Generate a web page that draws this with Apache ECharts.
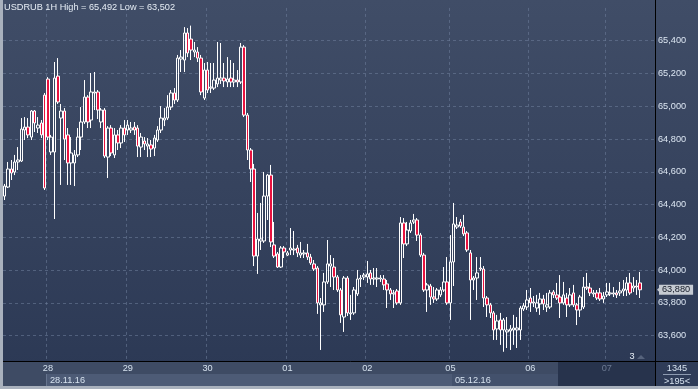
<!DOCTYPE html>
<html><head><meta charset="utf-8">
<script src="https://cdn.jsdelivr.net/npm/echarts@6/dist/echarts.min.js"></script>
<style>html,body{margin:0;padding:0;background:#2c3955;}#c{width:698px;height:389px;}</style>
</head><body><div id="c"></div>
<script>
// ---- data ----
const titleText = 'USDRUB 1H High = 65,492 Low = 63,502';
const dayLabels = ['27', '28', '29', '30', '01', '02', '05', '06', '07'];
const dayHourCounts = [13, 24, 24, 24, 24, 25, 24, 23, 15];
const futureDay = '07';
const weekLabels = ['28.11.16', '05.12.16'];
const lastPrice = 63880;
const barsTotal = '1345';
const barsVisible = '>195<';
const shiftMark = '3';
const yMin = 63400, yMax = 65600, yStep = 200;

const opens = [64452,64507,64617,64599,64660,64666,64855,64873,64812,64971,
64867,64898,65068,65166,64721,64721,65184,64928,64971,64825,
64654,64654,64703,64812,64904,65056,64916,65081,65087,64904,
64977,64690,64867,64703,64825,64776,64867,64855,64855,64873,
64867,64751,64788,64757,64764,64745,64794,64855,64916,64928,
64995,65081,65038,65288,65282,65447,65410,65331,65331,65294,
65050,65221,65111,65111,65136,65160,65172,65148,65172,65148,
65160,65148,65361,64946,64733,64617,64086,64178,64178,64452,
64580,64154,64099,64019,64135,64092,64123,64123,64135,64092,
64099,64105,64080,64038,64013,63788,63788,63928,64025,64019,
63958,63879,63714,63952,63733,63739,63855,63946,63958,63958,
63983,63946,63946,63946,63946,63916,63879,63855,63873,63800,
64288,64160,64239,64294,64306,64214,64092,63879,63903,63836,
63824,63849,63879,63928,63800,64050,64263,64294,64263,64227,
64105,63940,63952,64013,64007,63830,63788,63739,63641,63696,
63635,63623,63629,63635,63635,63635,63763,63775,63830,63800,
63769,63794,63824,63775,63775,63867,63849,63836,63800,63830,
63788,63861,63788,63757,63775,63897,63891,63855,63861,63861,
63824,63849,63855,63855,63861,63861,63873,63879,63922,63891,
63903,63922];
const closes = [64513,64617,64593,64660,64672,64861,64873,64825,64971,64898,
64885,64825,64501,64812,64812,65172,65026,64971,64800,64654,
64715,64703,64812,64904,65056,64904,65087,65087,64977,64977,
64696,64867,64715,64825,64776,64867,64825,64885,64867,64855,
64757,64812,64770,64770,64739,64806,64855,64928,64928,64995,
65081,65038,65294,65300,65447,65325,65343,65343,65294,65087,
65221,65099,65117,65160,65172,65172,65154,65166,65148,65160,
65148,65361,64946,64733,64617,64086,64190,64190,64452,64580,
64172,64086,64019,64135,64111,64105,64135,64129,64105,64105,
64105,64080,64044,64007,63800,63800,63928,64038,64038,63958,
63879,63727,63952,63739,63739,63879,63946,63952,63970,63977,
63946,63952,63952,63952,63910,63879,63855,63861,63800,64288,
64160,64245,64288,64306,64214,64092,63879,63910,63836,63824,
63879,63879,63928,63800,64050,64282,64275,64269,64221,64123,
63940,63952,63983,64007,63830,63788,63739,63635,63690,63635,
63696,63635,63641,63647,63647,63769,63782,63818,63800,63806,
63800,63824,63794,63788,63861,63849,63830,63800,63849,63788,
63849,63788,63757,63836,63897,63891,63861,63861,63830,63824,
63842,63867,63861,63861,63849,63873,63885,63922,63861,63903,
63897,63880];
const lows = [64428,64501,64550,64580,64611,64660,64794,64806,64794,64843,
64837,64806,64489,64794,64703,64312,65014,64520,64672,64520,
64520,64513,64690,64733,64892,64867,64867,64977,64922,64867,
64684,64562,64696,64684,64733,64745,64782,64825,64837,64825,
64690,64690,64733,64690,64690,64696,64782,64837,64879,64916,
64977,65014,65026,65209,65209,65300,65282,65300,65270,65068,
65038,65081,65081,65099,65117,65136,65117,65117,65117,65117,
65117,65136,64934,64672,64538,64025,63977,64123,64166,64306,
64141,64074,64013,64013,64074,64086,64092,64092,64080,64074,
64074,64062,64032,63995,63733,63513,63745,63916,63897,63879,
63867,63678,63623,63720,63696,63727,63842,63897,63940,63922,
63910,63910,63897,63928,63879,63769,63818,63769,63788,63788,
64074,64147,64227,64282,64178,64080,63867,63745,63788,63800,
63812,63836,63867,63788,63696,63903,64251,64257,64208,64111,
63696,63879,63818,63995,63775,63714,63708,63574,63574,63544,
63502,63525,63513,63544,63525,63574,63751,63757,63745,63775,
63745,63727,63757,63745,63763,63830,63818,63708,63788,63714,
63775,63775,63665,63714,63763,63879,63842,63836,63818,63812,
63800,63836,63842,63836,63830,63842,63842,63842,63849,63867,
63849,63830];
const highs = [64526,64660,64672,64703,64751,64928,64934,64928,64977,64977,
64934,64916,65081,65178,64825,65270,65294,65014,64989,64867,
64812,64733,64867,64995,65160,65068,65203,65209,65099,64989,
64989,64879,64885,64867,64855,64885,64916,64916,64904,64904,
64885,64837,64812,64806,64794,64825,64879,65001,64989,65068,
65099,65111,65313,65343,65483,65477,65492,65392,65361,65313,
65264,65270,65264,65264,65392,65386,65264,65300,65282,65264,
65221,65386,65373,64959,64745,64648,64349,64410,64599,64587,
64642,64294,64111,64147,64147,64117,64257,64239,64154,64172,
64123,64160,64099,64062,64025,63830,63983,64184,64092,64074,
63970,63891,63964,63964,63849,63897,64001,63970,63983,64056,
64001,64013,64013,63970,63970,63940,63891,63879,63885,64324,
64318,64294,64306,64343,64318,64227,64105,63922,63916,63897,
63891,63897,64019,64080,64214,64410,64324,64312,64337,64239,
64123,63964,64080,64080,64025,63842,63800,63751,63727,63739,
63708,63714,63665,63727,63714,63782,63800,63879,63891,63842,
63849,63861,63849,63861,63879,63879,63922,63970,63928,63861,
63891,63910,63800,63849,63958,63983,63922,63879,63879,63891,
63867,63922,63922,63897,63879,63928,63940,63958,63983,63958,
63940,63989];

// ---- build ----
const categories = [];
dayLabels.forEach((d, k) => {
  const start = k === 0 ? 24 - dayHourCounts[0] : 0;
  for (let h = 0; h < dayHourCounts[k]; h++) categories.push(d + '#' + (start + h));
});
const candles = opens.map((o, i) => [o, closes[i], lows[i], highs[i]]);
const isDayStart = (idx, val) => /#0$/.test(val);
const fmt = v => String(v).replace(/\B(?=(\d{3})+(?!\d))/g, ',');

const FONT = 'Liberation Sans';
const FS = 9.2;
const gridLine = { color: 'rgba(112,128,156,0.55)', width: 1, type: [3, 3] };
const yLineColors = [];
for (let v = yMin; v <= yMax; v += yStep) yLineColors.push(v >= yMax ? 'rgba(0,0,0,0)' : gridLine.color);

const chart = echarts.init(document.getElementById('c'), null, { renderer: 'canvas' });
chart.setOption({
  animation: false,
  backgroundColor: { type: 'linear', x: 0, y: 0, x2: 0, y2: 1,
    colorStops: [{ offset: 0, color: '#404d67' }, { offset: 1, color: '#2b3854' }] },
  title: { text: titleText, left: 4, top: 3, padding: 0,
    textStyle: { color: '#e6edf5', fontSize: FS, fontWeight: 'normal', fontFamily: FONT } },
  grid: [
    { left: 3, right: 43, top: 7.92, bottom: 20.52 },
    { left: 3, right: 43, top: 360, height: 1 }
  ],
  xAxis: [
    { type: 'category', gridIndex: 0, data: categories, boundaryGap: true,
      axisLine: { show: false }, axisTick: { show: false }, axisLabel: { show: false },
      splitLine: { show: true, interval: isDayStart, lineStyle: gridLine } },
    { type: 'category', gridIndex: 1, data: categories, boundaryGap: true, z: 120,
      axisLine: { show: false }, axisTick: { show: false }, splitLine: { show: false },
      axisLabel: { show: true, interval: isDayStart, margin: 3, fontSize: FS, fontFamily: FONT,
        formatter: v => v.split('#')[0],
        color: v => (String(v).split('#')[0] === futureDay ? '#6c7a93' : '#d6e2ef') } }
  ],
  yAxis: [
    { type: 'value', gridIndex: 0, position: 'right', min: yMin, max: yMax, interval: yStep,
      axisLine: { show: false }, axisTick: { show: false },
      axisLabel: { show: true, margin: 3, fontSize: FS, fontFamily: FONT, color: '#dce6f2',
        showMinLabel: false, showMaxLabel: false, formatter: v => fmt(v) },
      splitLine: { show: true, showMaxLine: false, lineStyle: Object.assign({}, gridLine, { color: yLineColors }) } },
    { type: 'value', gridIndex: 1, show: false }
  ],
  series: [{
    type: 'candlestick', xAxisIndex: 0, yAxisIndex: 0, data: candles, barWidth: 3, z: 5,
    itemStyle: { color: 'rgba(0,0,0,0)', color0: '#e8123f', borderColor: '#ffffff', borderColor0: '#ffffff', borderWidth: 1 },
    markLine: {
      silent: true, symbol: ['none', 'none'], animation: false, z: 130,
      lineStyle: { color: 'rgba(0,0,0,0)', width: 0, type: 'solid' },
      data: [{ yAxis: lastPrice }],
      label: { show: true, position: 'end', distance: 4, formatter: () => fmt(lastPrice),
        backgroundColor: '#c5cad2', color: '#121826', fontSize: FS, fontFamily: FONT, padding: [1, 3, 0, 3] }
    }
  }],
  graphic: { elements: [
    { type: 'rect', z: 100, shape: { x: 3, y: 361, width: 652, height: 13 }, style: { fill: '#3e4b64' } },
    { type: 'rect', z: 100, shape: { x: 3, y: 374, width: 43, height: 12 }, style: { fill: '#3e4b64' } },
    { type: 'rect', z: 100, shape: { x: 46, y: 374, width: 406, height: 12 }, style: { fill: '#4d5b76' } },
    { type: 'rect', z: 100, shape: { x: 452, y: 374, width: 106, height: 12 }, style: { fill: '#43516c' } },
    { type: 'rect', z: 100, shape: { x: 558, y: 361, width: 97, height: 25 }, style: { fill: '#27334c' } },
    { type: 'rect', z: 100, shape: { x: 655, y: 361, width: 43, height: 25 }, style: { fill: '#2f3c58' } },
    { type: 'rect', z: 100, shape: { x: 0, y: 0, width: 3, height: 389 }, style: { fill: '#a9b1bd' } },
    { type: 'rect', z: 100, shape: { x: 0, y: 386, width: 698, height: 3 }, style: { fill: '#a9b1bd' } },
    { type: 'line', z: 101, shape: { x1: 3, y1: 361.5, x2: 698, y2: 361.5 }, style: { stroke: '#000', lineWidth: 1 } },
    { type: 'line', z: 101, shape: { x1: 655.5, y1: 0, x2: 655.5, y2: 386 }, style: { stroke: '#000', lineWidth: 1 } },
    { type: 'line', z: 101, shape: { x1: 46.5, y1: 374, x2: 46.5, y2: 386 }, style: { stroke: '#66748e', lineWidth: 1 } },
    { type: 'line', z: 101, shape: { x1: 663, y1: 374.5, x2: 691, y2: 374.5 }, style: { stroke: '#8e9bb1', lineWidth: 1 } },
    { type: 'polygon', z: 101, shape: { points: [[637, 359], [641, 355], [645, 359]] }, style: { fill: '#56637c' } },
    { type: 'polygon', z: 131, shape: { points: [[657, 289.8], [662, 285], [662, 294.6]] }, style: { fill: '#c5cad2' } },
    { type: 'text', z: 110, x: 50, y: 380.5, style: { text: weekLabels[0], fill: '#d6e2ef', font: FS + 'px "' + FONT + '"', verticalAlign: 'middle' } },
    { type: 'text', z: 110, x: 455, y: 380.5, style: { text: weekLabels[1], fill: '#d6e2ef', font: FS + 'px "' + FONT + '"', verticalAlign: 'middle' } },
    { type: 'text', z: 110, x: 677, y: 368, style: { text: barsTotal, fill: '#d6e2ef', font: FS + 'px "' + FONT + '"', align: 'center', verticalAlign: 'middle' } },
    { type: 'text', z: 110, x: 677, y: 381.5, style: { text: barsVisible, fill: '#d6e2ef', font: FS + 'px "' + FONT + '"', align: 'center', verticalAlign: 'middle' } },
    { type: 'text', z: 110, x: 632, y: 356, style: { text: shiftMark, fill: '#e6edf5', font: FS + 'px "' + FONT + '"', align: 'center', verticalAlign: 'middle' } }
  ] }
});
</script>
</body></html>
